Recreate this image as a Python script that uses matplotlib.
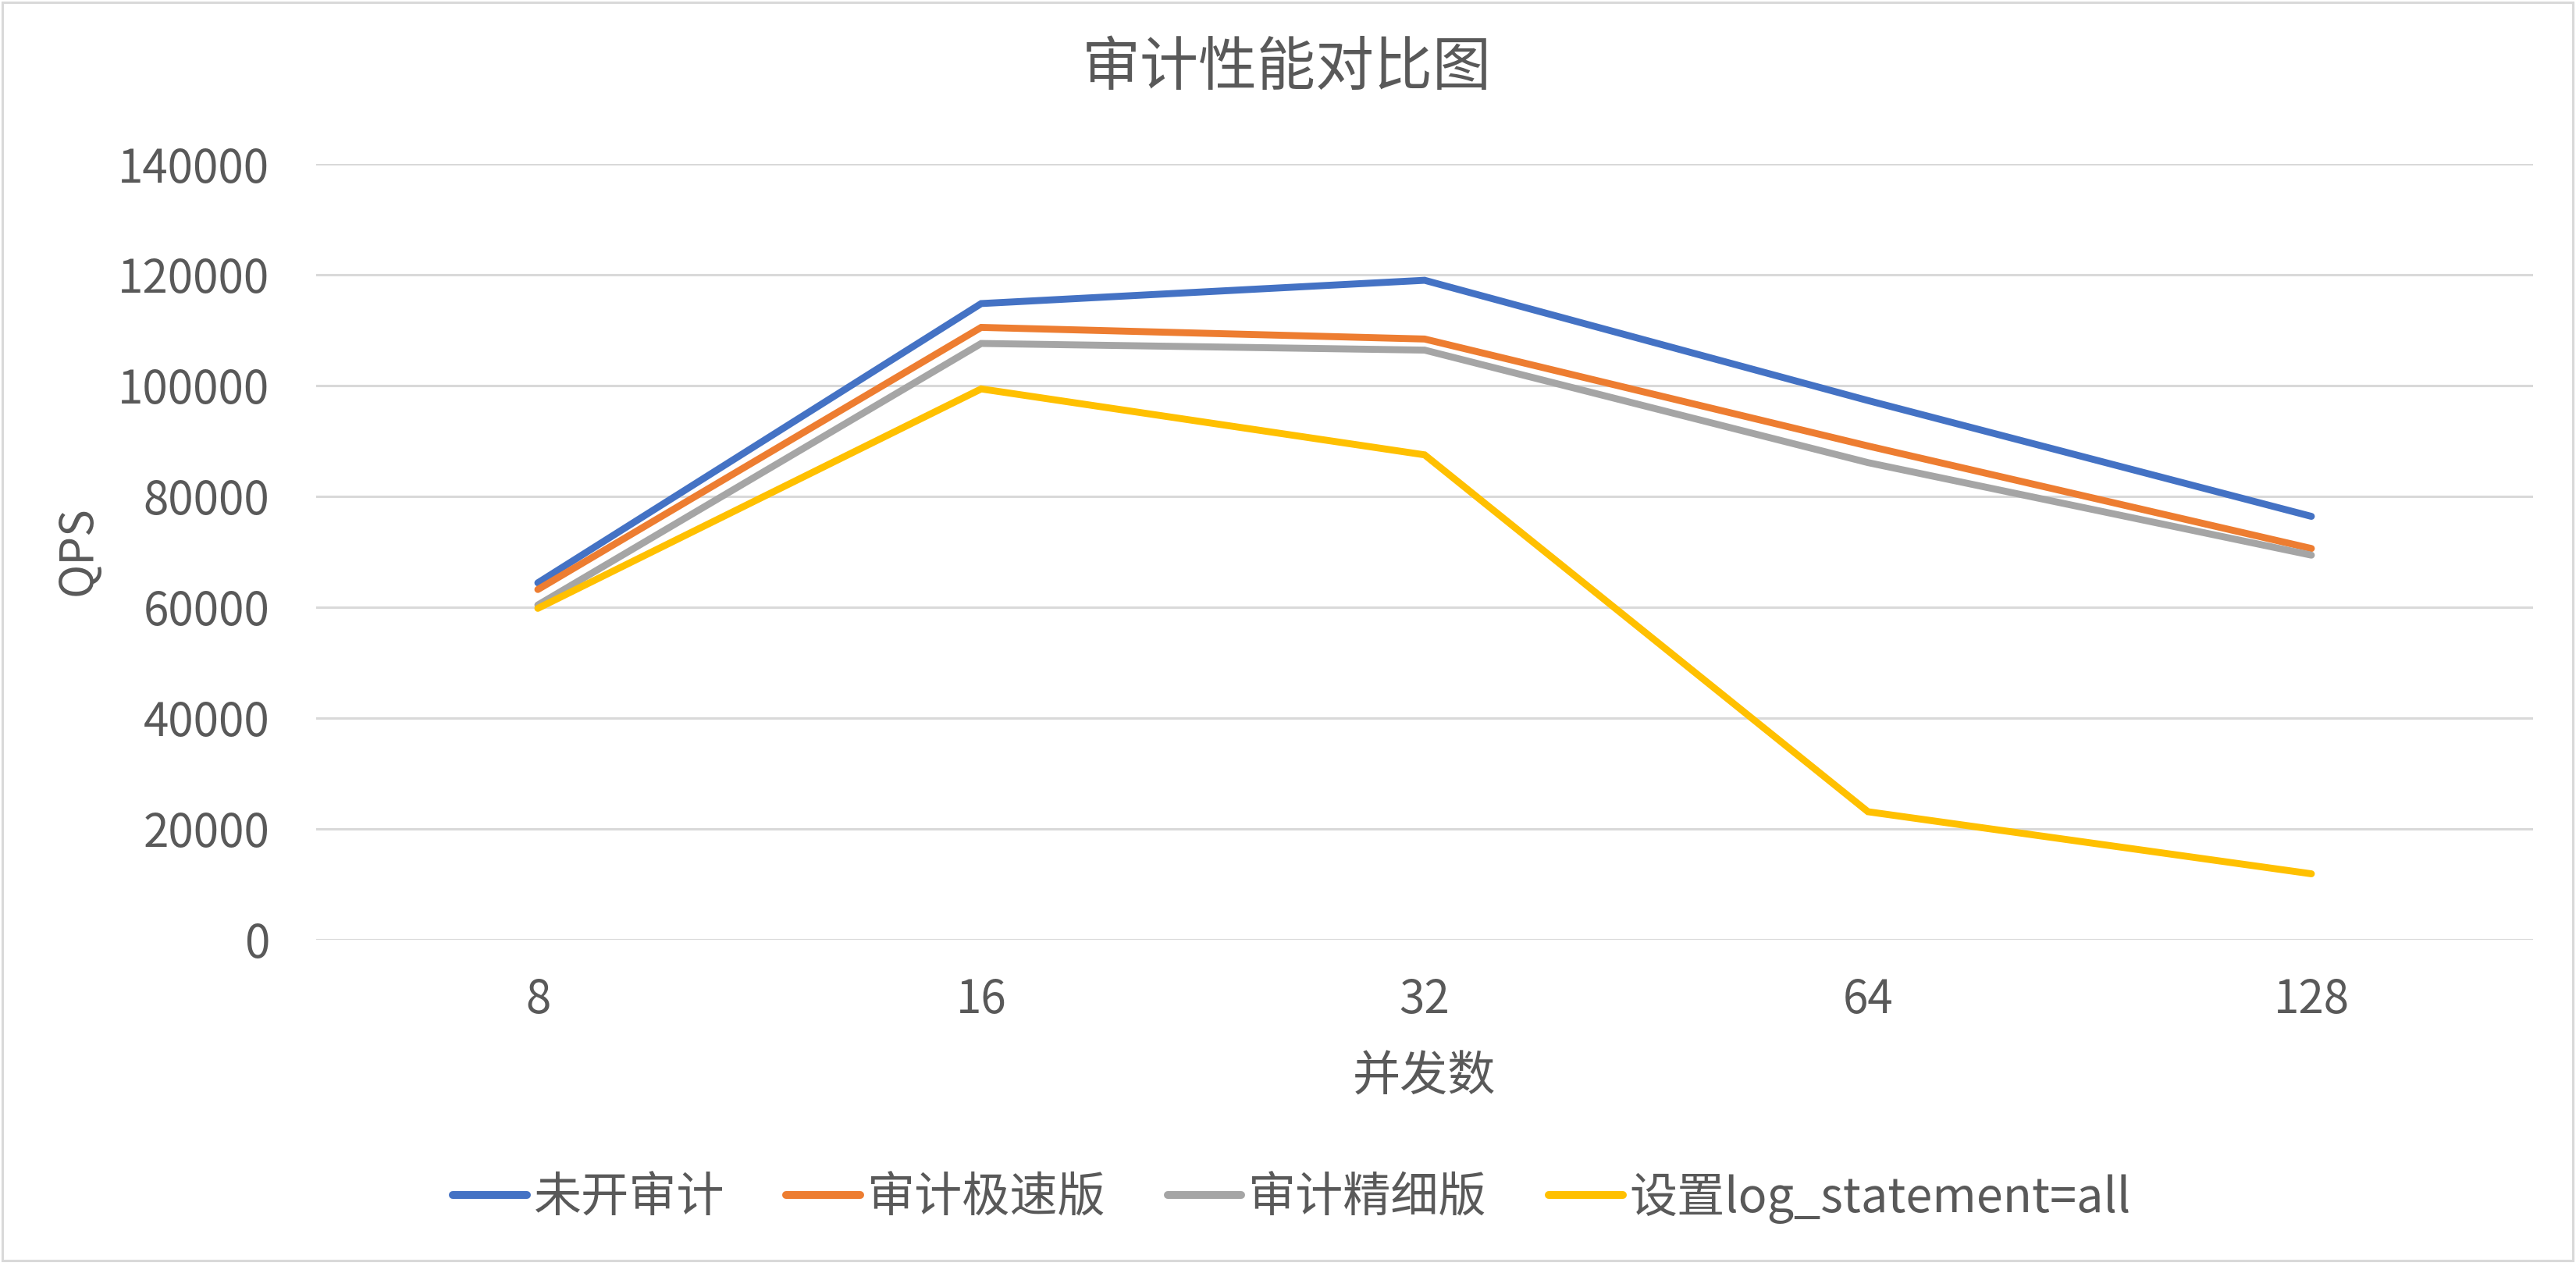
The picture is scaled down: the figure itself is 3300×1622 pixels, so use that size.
import matplotlib
matplotlib.use("Agg")
import matplotlib.pyplot as plt
from matplotlib.patches import Rectangle

plt.rcParams['font.family'] = ['Noto Sans CJK SC', 'DejaVu Sans']

# ---- data ----
categories = ["8", "16", "32", "64", "128"]
series_names = ["未开审计", "审计极速版", "审计精细版", "设置log_statement=all"]
no_audit = [64400, 114800, 119000, 97300, 76400]
audit_fast = [63200, 110500, 108400, 89100, 70600]
audit_detail = [60400, 107600, 106400, 86100, 69400]
log_all = [59800, 99400, 87500, 23100, 11900]
yticks = [0, 20000, 40000, 60000, 80000, 100000, 120000, 140000]

colors = ["#4472C4", "#ED7D31", "#A5A5A5", "#FFC000"]
text_color = "#595959"
grid_color = "#D9D9D9"

W, H, DPI = 3300, 1622, 200
fig = plt.figure(figsize=(W / DPI, H / DPI), dpi=DPI)
fig.patch.set_facecolor("white")

# chart border
fig.patches.append(Rectangle((3 / W, 1 - 1615 / H), (3296 - 3) / W, (1615 - 3) / H,
                             transform=fig.transFigure, fill=False,
                             edgecolor=grid_color, linewidth=1.1))

left, right, top, bottom = 405, 3245, 210, 1204
ax = fig.add_axes([left / W, 1 - bottom / H, (right - left) / W, (bottom - top) / H])

x = list(range(len(categories)))
all_series = [no_audit, audit_fast, audit_detail, log_all]
handles = []
for vals, name, c in zip(all_series, series_names, colors):
    h, = ax.plot(x, vals, color=c, linewidth=3.2, label=name,
                 solid_capstyle="round", solid_joinstyle="miter")
    handles.append(h)

ax.set_xlim(-0.5, len(categories) - 0.5)
ax.set_ylim(0, 140000)
ax.set_yticks(yticks)
ax.set_yticklabels([str(v) for v in yticks])
ax.set_xticks(x)
ax.set_xticklabels(categories)
ax.grid(axis="y", color=grid_color, linewidth=1.1)
ax.set_axisbelow(True)
for s in ax.spines.values():
    s.set_visible(False)
ax.tick_params(axis="both", length=0, labelsize=21, colors=text_color)
ax.tick_params(axis="y", pad=21.5)
ax.tick_params(axis="x", pad=17)

fig.text(1648 / W, 1 - 87 / H, "审计性能对比图", ha="center", va="center",
         fontsize=27, color=text_color)
fig.text(1824 / W, 1 - 1380 / H, "并发数", ha="center", va="center",
         fontsize=22, color=text_color)
fig.text(100 / W, 1 - 706 / H, "QPS", ha="center", va="center", rotation=90,
         fontsize=21, color=text_color)

leg = fig.legend(handles=handles, labels=series_names, loc="center",
                 bbox_to_anchor=(1655 / W, 1 - 1535 / H), ncol=4, frameon=False,
                 fontsize=22, handlelength=1.55, handletextpad=0.15,
                 columnspacing=1.29, labelcolor=text_color)
for lh in leg.get_lines():
    lh.set_linewidth(3.6)

fig.savefig("out.png", dpi=DPI, facecolor="white")
